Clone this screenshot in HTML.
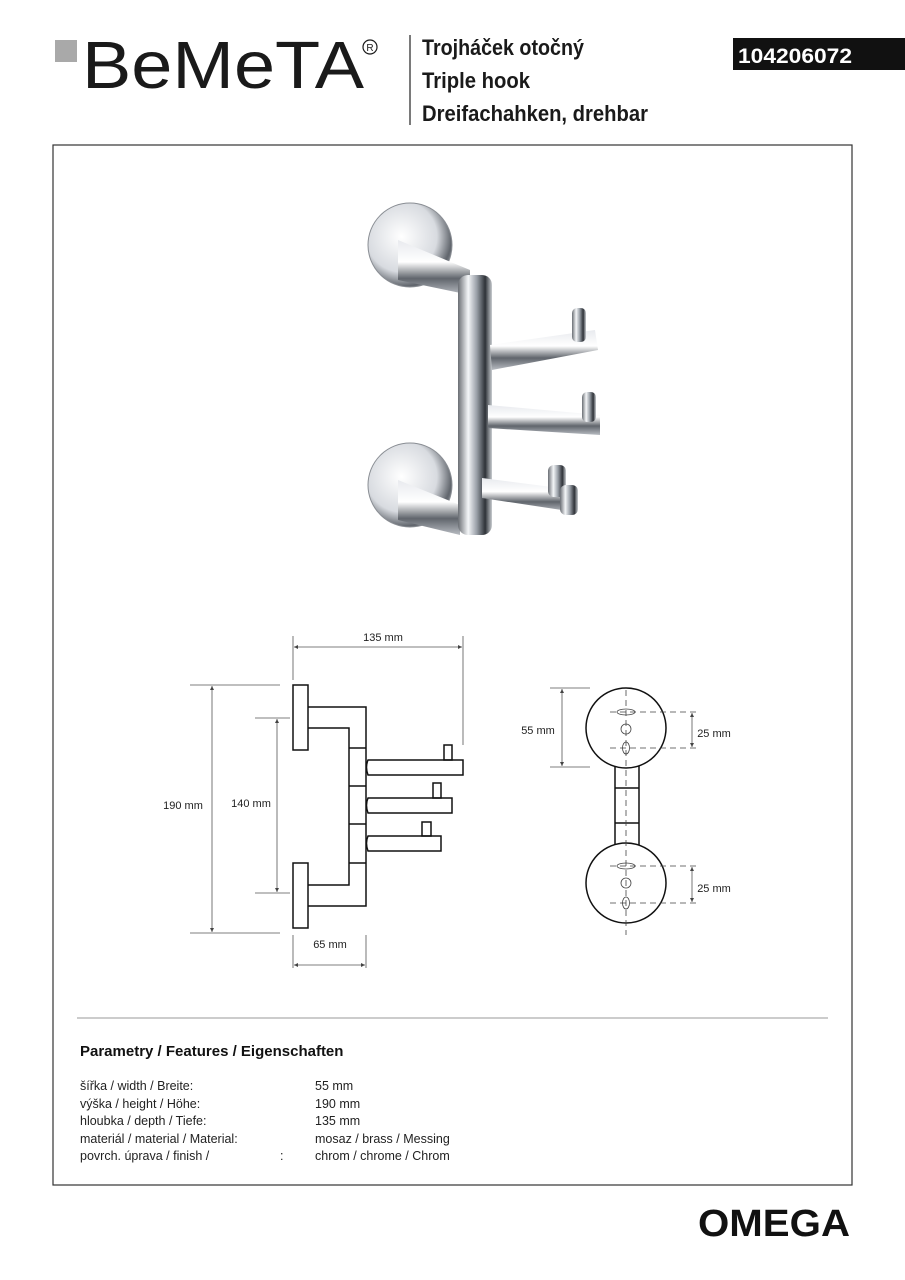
<!DOCTYPE html>
<html><head><meta charset="utf-8"><style>
body{margin:0;width:905px;height:1280px;background:#fff;overflow:hidden}
svg{display:block}
</style></head><body>
<svg width="905" height="1280" viewBox="0 0 905 1280" xmlns="http://www.w3.org/2000/svg" font-family="Liberation Sans, sans-serif">
<defs>
<linearGradient id="ch" x1="0" x2="1" y1="0" y2="0"><stop offset="0" stop-color="#6a6e74"/><stop offset=".3" stop-color="#f4f6f8"/><stop offset=".55" stop-color="#9aa0a8"/><stop offset=".8" stop-color="#2e3238"/><stop offset="1" stop-color="#c8ccd0"/></linearGradient>
<linearGradient id="cv" x1="0" x2="0" y1="0" y2="1"><stop offset="0" stop-color="#e8eaee"/><stop offset=".4" stop-color="#fff"/><stop offset=".7" stop-color="#60656c"/><stop offset="1" stop-color="#b8bcc2"/></linearGradient>
<radialGradient id="rd" cx=".4" cy=".4" r=".7"><stop offset="0" stop-color="#fff"/><stop offset=".6" stop-color="#d8dbe0"/><stop offset=".85" stop-color="#60656c"/><stop offset="1" stop-color="#a0a4aa"/></radialGradient>
<marker id="a" viewBox="0 0 6 6" refX="6" refY="3" markerWidth="5" markerHeight="5" orient="auto-start-reverse"><path d="M0 0 L6 3 L0 6Z" fill="#444"/></marker>
</defs>
<!-- header -->
<rect x="55" y="40" width="22" height="22" fill="#a9a9a9"/>
<text x="82" y="88" font-size="67" textLength="282" lengthAdjust="spacingAndGlyphs" fill="#1a1a1a">BeMeTA</text>
<circle cx="370" cy="47" r="7" fill="none" stroke="#1a1a1a" stroke-width="1.2"/>
<text x="370" y="51" font-size="10" fill="#1a1a1a" text-anchor="middle">R</text>
<line x1="410" y1="35" x2="410" y2="125" stroke="#222" stroke-width="1.2"/>
<g font-weight="bold" font-size="22" fill="#1a1a1a">
<text x="422" y="55" textLength="162" lengthAdjust="spacingAndGlyphs">Trojháček otočný</text>
<text x="422" y="88" textLength="108" lengthAdjust="spacingAndGlyphs">Triple hook</text>
<text x="422" y="121" textLength="226" lengthAdjust="spacingAndGlyphs">Dreifachahken, drehbar</text>
</g>
<rect x="733" y="38" width="172" height="32" fill="#111"/>
<text x="738" y="63" font-size="21" font-weight="bold" fill="#fff" textLength="114" lengthAdjust="spacingAndGlyphs">104206072</text>
<rect x="53" y="145" width="799" height="1040" fill="none" stroke="#333" stroke-width="1.2"/>
<!-- photo -->
<circle cx="410" cy="245" r="42" fill="url(#rd)" stroke="#8a8e94"/>
<circle cx="410" cy="485" r="42" fill="url(#rd)" stroke="#8a8e94"/>
<path d="M398 240 L470 270 L470 295 L398 280Z" fill="url(#cv)"/>
<path d="M398 480 L460 505 L460 535 L398 520Z" fill="url(#cv)"/>
<rect x="458" y="275" width="34" height="260" rx="10" fill="url(#ch)"/>
<path d="M490 345 L595 330 L598 350 L492 370Z" fill="url(#cv)"/>
<rect x="572" y="308" width="14" height="34" rx="5" fill="url(#ch)"/>
<path d="M488 405 L600 415 L600 435 L488 428Z" fill="url(#cv)"/>
<rect x="582" y="392" width="14" height="30" rx="5" fill="url(#ch)"/>
<path d="M482 478 L575 490 L575 512 L482 498Z" fill="url(#cv)"/>
<rect x="548" y="465" width="18" height="32" rx="6" fill="url(#ch)"/>
<rect x="560" y="485" width="18" height="30" rx="6" fill="url(#ch)"/>
<!-- side view -->
<g fill="none" stroke="#111" stroke-width="1.5">
<rect x="293" y="685" width="15" height="65" fill="#fff"/>
<rect x="293" y="863" width="15" height="65" fill="#fff"/>
<path d="M308 707 H366 V906 H308 M308 728 H349 V885 H308"/>
<path d="M349 748 H366 M349 786 H366 M349 824 H366 M349 863 H366"/>
<path d="M368 760 H463 V775 H368 Q365 767 368 760Z M368 798 H452 V813 H368 Q365 805 368 798Z M368 836 H441 V851 H368 Q365 843 368 836Z"/>
<rect x="444" y="745" width="8" height="15"/><rect x="433" y="783" width="8" height="15"/><rect x="422" y="822" width="9" height="14"/>
</g>
<g stroke="#555" stroke-width=".8" fill="none">
<path d="M293 636 V680 M463 636 V745 M190 685 H280 M190 933 H280 M255 718 H290 M255 893 H290 M293 935 V968 M366 935 V968"/>
<path d="M550 688 H590 M550 767 H590"/>
</g>
<g stroke="#555" stroke-width=".8" fill="none" marker-start="url(#a)" marker-end="url(#a)">
<line x1="294" y1="647" x2="462" y2="647"/><line x1="212" y1="686" x2="212" y2="932"/><line x1="277" y1="719" x2="277" y2="892"/><line x1="294" y1="965" x2="365" y2="965"/>
<line x1="562" y1="689" x2="562" y2="766"/><line x1="692" y1="713" x2="692" y2="747"/><line x1="692" y1="867" x2="692" y2="902"/>
</g>
<g font-size="11" fill="#222" text-anchor="middle">
<text x="383" y="641">135 mm</text><text x="183" y="809">190 mm</text><text x="251" y="807">140 mm</text><text x="330" y="948">65 mm</text>
<text x="538" y="734">55 mm</text><text x="714" y="737">25 mm</text><text x="714" y="892">25 mm</text>
</g>
<!-- front view -->
<g fill="none" stroke="#111" stroke-width="1.5">
<rect x="615" y="766" width="24" height="82" fill="#fff"/>
<path d="M615 788 H639 M615 823 H639"/>
<circle cx="626" cy="728" r="40" fill="#fff"/><circle cx="626" cy="883" r="40" fill="#fff"/>
</g>
<g fill="none" stroke="#444" stroke-width=".8">
<ellipse cx="626" cy="712" rx="9" ry="3"/><circle cx="626" cy="729" r="5"/><ellipse cx="626" cy="748" rx="3.5" ry="6"/>
<ellipse cx="626" cy="866" rx="9" ry="3"/><circle cx="626" cy="883" r="5"/><ellipse cx="626" cy="903" rx="3.5" ry="6"/>
<path d="M626 690 V935 M610 712 H700 M610 748 H700 M610 866 H700 M610 903 H700" stroke-dasharray="6 4"/>
</g>
<!-- features -->
<line x1="77" y1="1018" x2="828" y2="1018" stroke="#999"/>
<text x="80" y="1056" font-size="15" font-weight="bold" fill="#111">Parametry / Features / Eigenschaften</text>
<g font-size="12.5" fill="#222">
<text x="80" y="1090">šířka / width / Breite:</text><text x="315" y="1090">55 mm</text>
<text x="80" y="1108">výška / height / Höhe:</text><text x="315" y="1108">190 mm</text>
<text x="80" y="1125">hloubka / depth / Tiefe:</text><text x="315" y="1125">135 mm</text>
<text x="80" y="1143">materiál / material / Material:</text><text x="315" y="1143">mosaz / brass / Messing</text>
<text x="80" y="1160">povrch. úprava / finish /</text><text x="280" y="1160">:</text><text x="315" y="1160">chrom / chrome / Chrom</text>
</g>
<text x="850" y="1236" font-size="38" font-weight="bold" fill="#111" text-anchor="end" textLength="152" lengthAdjust="spacingAndGlyphs">OMEGA</text>
</svg>
</body></html>
